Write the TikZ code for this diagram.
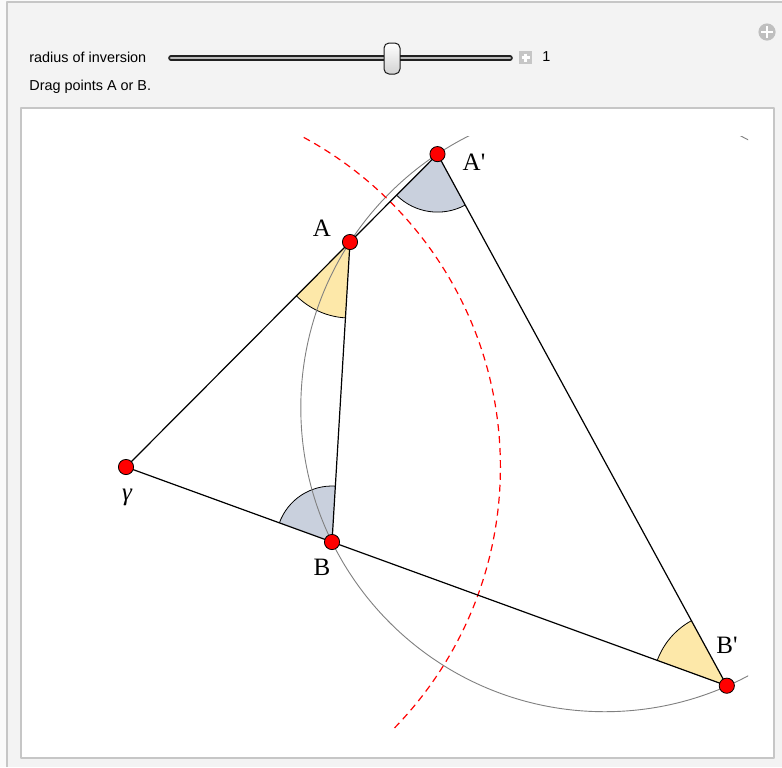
\documentclass[tikz,border=0pt]{standalone}
\usepackage{fontspec}
\setmainfont{Liberation Serif}
\setsansfont{Liberation Sans}
\usetikzlibrary{angles,calc}

\definecolor{panelgray}{HTML}{F3F3F3}
\definecolor{framegray}{HTML}{C6C6C6}
\definecolor{wedgeyellow}{HTML}{FDE8A9}
\definecolor{wedgeblue}{HTML}{C9D0DD}

\tikzset{
  dot/.style={circle, fill=red, draw=black, line width=0.4pt, inner sep=0pt, minimum size=7.6pt},
  ptlabel/.style={font=\fontsize{12.5}{14}\selectfont, inner sep=0pt},
  uitext/.style={font=\sffamily\fontsize{7.2}{8.6}\selectfont, anchor=west, inner sep=0pt},
  yellowangle/.style={draw=black, line width=0.4pt, fill=wedgeyellow, angle radius=#1},
  blueangle/.style={draw=black, line width=0.4pt, fill=wedgeblue, angle radius=#1}
}

\begin{document}
\begin{tikzpicture}[x=0.5pt, y=-0.5pt, line join=round]
\useasboundingbox (0,0) rectangle (782,767);

% panel
\fill[white!60!panelgray] (0,0) rectangle (782,767);
\fill[panelgray] (7,2) rectangle (782,767);
\draw[framegray, line width=1pt] (7,767) -- (7,2) -- (782,2);

% controls
\node[uitext] (radlabel) at (29,57) {radius of inversion};
\draw[line width=2.8pt, gray!25!black, line cap=round] (171,58) -- (510,58);
\draw[line width=1.4pt, gray!55, line cap=round] (171,58) -- (510,58);
\draw[rounded corners=2.5pt, draw=gray!20!black, line width=0.5pt, top color=white, bottom color=gray!35] (384,43) rectangle (400,74);
\fill[gray!45] (519,51) rectangle (532,64);
\draw[white, line width=1.1pt] (525.5,53.5) -- (525.5,61.5) (521.5,57.5) -- (529.5,57.5);
\node[uitext] (radvalue) at (542,57) {1};
\node[uitext] (draghint) at (29,87) {Drag points A or B.};
\fill[gray!50] (767,32) circle[radius=4.3pt];
\draw[white, line width=1.3pt] (767,26) -- (767,38) (761,32) -- (773,32);

% plot frame
\draw[framegray, line width=1.2pt, fill=white] (21,108) rectangle (774,758);

% points
\coordinate (gam) at (126,467);
\coordinate (A) at (350,242);
\coordinate (Ap) at (437.5,154.1);
\coordinate (B) at (332,542);
\coordinate (Bp) at (726.8,685.7);
\coordinate (ctr) at (604.7,407.8);

% equal angles
\pic[yellowangle=38pt] {angle = gam--A--B};
\pic[yellowangle=37pt] {angle = Ap--Bp--gam};
\pic[blueangle=29pt] {angle = gam--Ap--Bp};
\pic[blueangle=28pt] {angle = A--B--gam};

% circle through A, B, A', B' and circle of inversion
\begin{scope}
\clip (28,136) rectangle (748,728);
\draw[gray, line width=0.45pt] (ctr) circle[radius=151.95pt];
\draw[red, line width=0.6pt, dash pattern=on 3.5pt off 2.5pt] (gam) circle[radius=187.2pt];
\end{scope}

% rays and segments
\draw[line width=0.6pt] (gam) -- (Ap) (gam) -- (Bp) (A) -- (B) (Ap) -- (Bp);

\foreach \p in {gam,A,Ap,B,Bp}
  \node[dot] (\p dot) at (\p) {};

\node[ptlabel] (Alabel) at (322,228) {A};
\node[ptlabel] (Aplabel) at (474,162) {A\textquotesingle};
\node[ptlabel] (Blabel) at (322,567) {B};
\node[ptlabel] (Bplabel) at (727,645) {B\textquotesingle};
\node[ptlabel] (gamlabel) at (127,497) {\itshape γ};

\end{tikzpicture}
\end{document}
